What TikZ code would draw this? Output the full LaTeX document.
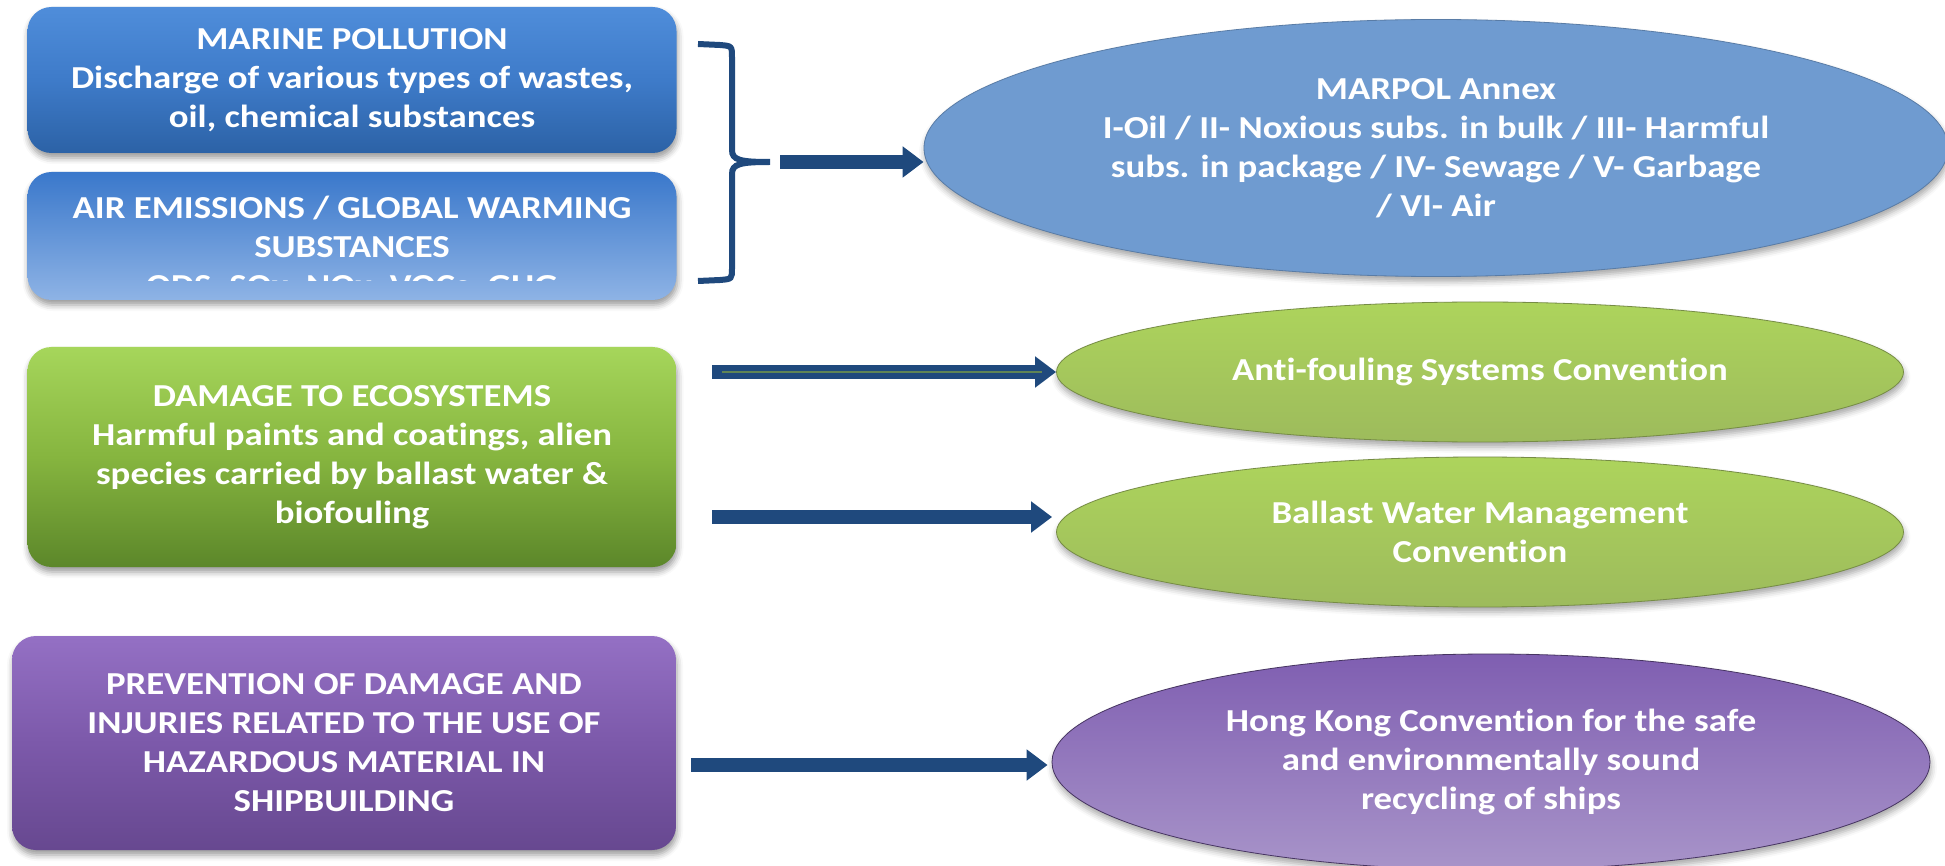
\documentclass[tikz,border=0pt]{standalone}
\usepackage{fontspec}
\setmainfont{Carlito}[FakeStretch=1.15, Ligatures=NoCommon]
\usepackage{tikz}
\usetikzlibrary{positioning,arrows.meta,shapes.geometric,shadows.blur}

\definecolor{arrowblue}{HTML}{1F497D}
\definecolor{marinetop}{HTML}{4F8DDA}
\definecolor{marinemid}{HTML}{3E7BC9}
\definecolor{marinebot}{HTML}{2C62A6}
\definecolor{airtop}{HTML}{3A78CB}
\definecolor{airbot}{HTML}{8EB3E5}
\definecolor{damagetop}{HTML}{A6D65B}
\definecolor{damagemid}{HTML}{86B53F}
\definecolor{damagebot}{HTML}{5C872A}
\definecolor{preventtop}{HTML}{9470C4}
\definecolor{preventmid}{HTML}{7C59AA}
\definecolor{preventbot}{HTML}{674890}
\definecolor{marpolfill}{HTML}{6F9BD0}
\definecolor{greentop}{HTML}{ADD45C}
\definecolor{greenbot}{HTML}{9DBB5C}
\definecolor{hktop}{HTML}{7F5EB1}
\definecolor{hkbot}{HTML}{A894C9}
\definecolor{innergreen}{HTML}{5F8455}

\begin{document}
\begin{tikzpicture}[x=0.5pt, y=-0.5pt,
    every node/.style={font=\bfseries\fontsize{16}{19.5}\selectfont, text=white, align=center, inner sep=0pt},
    card/.style={rectangle, rounded corners=12pt,
        blur shadow={shadow xshift=0.5pt, shadow yshift=-2.5pt, shadow blur radius=3pt, shadow opacity=40}},
    oval/.style={ellipse,
        blur shadow={shadow xshift=0.5pt, shadow yshift=-2.5pt, shadow blur radius=3pt, shadow opacity=35}},
    bigarrow/.style={arrowblue, line width=7pt, -{Triangle[length=10.5pt, width=15pt]}},
    ]
    \useasboundingbox (0,0) rectangle (1945,866);

    \node[card, top color=marinetop, bottom color=marinebot, middle color=marinemid,
        minimum width=324.5pt, minimum height=73pt] (marine) at (352,80)
        {MARINE POLLUTION\\Discharge of various types of wastes,\\oil, chemical substances};
    \node[card, top color=airtop, bottom color=airbot,
        minimum width=324.5pt, minimum height=64pt] (air) at (352,236) {};
    \begin{scope}
        \clip (27,171) rectangle (677,281);
        \node (airtext) at (352,248) {AIR EMISSIONS / GLOBAL WARMING\\SUBSTANCES\\ODS, SOx, NOx, VOCs, GHG};
    \end{scope}
    \node[card, top color=damagetop, bottom color=damagebot, middle color=damagemid,
        minimum width=324.5pt, minimum height=110pt] (damage) at (352,457)
        {DAMAGE TO ECOSYSTEMS\\Harmful paints and coatings, alien\\species carried by ballast water \&\\biofouling};
    \node[card, top color=preventtop, bottom color=preventbot, middle color=preventmid,
        minimum width=332pt, minimum height=107pt] (prevent) at (344,743)
        {PREVENTION OF DAMAGE AND\\INJURIES RELATED TO THE USE OF\\HAZARDOUS MATERIAL IN\\SHIPBUILDING};

    \node[oval, fill=marpolfill, draw=marpolfill!80!black, line width=0.4pt,
        minimum width=512pt, minimum height=128.5pt] (marpol) at (1436,148)
        {MARPOL Annex\\I-Oil / II- Noxious subs. in bulk / III- Harmful\\subs. in package / IV- Sewage / V- Garbage\\/ VI- Air};
    \node[oval, top color=greentop, bottom color=greenbot, draw=greenbot!75!black, line width=0.4pt,
        minimum width=423.5pt, minimum height=70pt] (anti) at (1480,372)
        {Anti-fouling Systems Convention};
    \node[oval, top color=greentop, bottom color=greenbot, draw=greenbot!75!black, line width=0.4pt,
        minimum width=423.5pt, minimum height=75pt] (ballast) at (1480,532)
        {Ballast Water Management\\Convention};
    \node[oval, top color=hktop, bottom color=hkbot, draw=hktop!55!black, line width=0.4pt,
        minimum width=439pt, minimum height=108pt] (hk) at (1491,762)
        {Hong Kong Convention for the safe\\and environmentally sound\\recycling of ships};

    \draw[arrowblue, line width=3pt]
        (698,44) -- (720,45) .. controls (732,46) .. (732,58) -- (732,150)
        .. controls (732,160) and (740,162) .. (770,162)
        .. controls (740,162) and (732,164) .. (732,174) -- (732,268)
        .. controls (732,279) .. (720,280) -- (698,281);

    \coordinate (bracetip) at (780,162);
    \coordinate (a1) at (712,372);
    \coordinate (a2) at (712,517);
    \coordinate (a3) at (691,765);

    \draw[bigarrow] (bracetip) -- (bracetip -| marpol.west);
    \draw[bigarrow] (a1) -- (a1 -| anti.west);
    \draw[innergreen, line width=1pt, shorten <=5pt, shorten >=7pt] (a1) -- (a1 -| anti.west);
    \draw[bigarrow] (a2) -- ([xshift=-2pt]a2 -| ballast.west);
    \draw[bigarrow] (a3) -- ([xshift=-2pt]a3 -| hk.west);
\end{tikzpicture}
\end{document}
